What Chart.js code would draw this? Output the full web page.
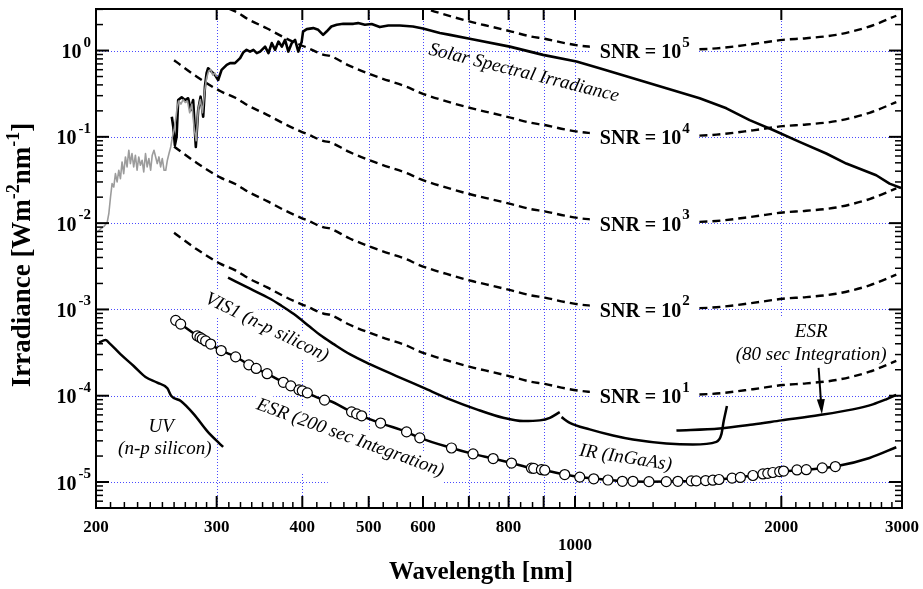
<!DOCTYPE html>
<html>
<head>
<meta charset="utf-8">
<script src="https://cdn.jsdelivr.net/npm/chart.js@4.4.1/dist/chart.umd.min.js"></script>
<style>
  html, body { margin: 0; padding: 0; background: #fff; }
</style>
</head>
<body>
<canvas id="irradianceChart" width="923" height="589"></canvas>
<script>
// solar spectrum, UV part (grey trace)
const solarUvWl = [200.9, 203.2, 205.4, 207.7, 208.8, 210, 211.1, 212.3, 213.5, 214.7, 215.9, 217.1, 218.3, 219.5, 220.8, 222, 223.3, 224.5, 225.7, 227, 228.3, 229.6, 230.9, 232.2, 233.5, 234.8, 236.2, 237.5, 238.9, 240.3, 241.6, 243, 244.4, 245.7, 247.1, 248.5, 249.9, 251.4, 252.8, 254.2, 255.6, 257.1, 258.5, 260, 261.4, 262.5, 264, 266, 268, 270, 272, 274, 276, 278, 280, 282, 284, 286, 288, 290, 292, 294, 296, 298, 300];
const solarUvIrr = [0.00786, 0.00861, 0.00915, 0.01027, 0.01286, 0.0201, 0.0287, 0.0262, 0.0375, 0.030, 0.041, 0.0328, 0.0512, 0.0375, 0.0585, 0.0448, 0.070, 0.049, 0.0641, 0.0448, 0.0613, 0.041, 0.0585, 0.0469, 0.0536, 0.0392, 0.0641, 0.0448, 0.0561, 0.041, 0.0613, 0.070, 0.0585, 0.049, 0.0585, 0.0448, 0.0561, 0.041, 0.041, 0.0536, 0.0641, 0.0765, 0.10, 0.12, 0.16, 0.21, 0.26, 0.24, 0.27, 0.25, 0.26, 0.19, 0.24, 0.13, 0.09, 0.21, 0.27, 0.19, 0.33, 0.48, 0.58, 0.60, 0.52, 0.55, 0.50];

// solar spectrum (black trace)
const solarWl = [258, 259.3, 260.7, 262.2, 263.6, 266.7, 269.6, 272.6, 274.8, 277.2, 279.7, 281.9, 284.2, 286.7, 288.4, 290, 291.5, 294.9, 298.2, 301.5, 305, 310.3, 313.8, 319, 324.6, 327.9, 331.7, 335.6, 339.4, 343.3, 347.1, 353, 357, 361, 365.1, 369.2, 373.4, 377.5, 381.7, 386.1, 390.4, 394.7, 399.2, 401, 406, 415, 422, 429, 434, 441, 449, 459, 475, 482.5, 493.6, 505, 519, 534, 555, 580, 600, 635, 657, 702, 803, 898, 1005, 1086, 1215, 1359, 1520, 1663, 1798, 1945, 2126, 2326, 2488, 2751, 2877, 2990];
const solarIrr = [0.171, 0.131, 0.080, 0.100, 0.267, 0.287, 0.267, 0.28, 0.204, 0.267, 0.0765, 0.204, 0.292, 0.171, 0.381, 0.546, 0.624, 0.57, 0.522, 0.456, 0.597, 0.682, 0.714, 0.714, 0.816, 0.948, 1.02, 0.973, 1.02, 0.933, 0.973, 1.11, 0.933, 1.22, 1.02, 1.27, 1.11, 1.33, 0.973, 1.22, 1.33, 0.973, 1.27, 1.66, 1.77, 1.82, 1.74, 1.52, 1.66, 1.90, 1.99, 2.04, 2.04, 2.08, 1.99, 2.03, 1.87, 1.95, 1.95, 1.90, 1.80, 1.60, 1.52, 1.37, 1.11, 0.891, 0.745, 0.624, 0.478, 0.365, 0.28, 0.214, 0.156, 0.12, 0.0874, 0.0641, 0.049, 0.0359, 0.0287, 0.0255];

// UV channel (n-p silicon)
const uvWl = [202, 206.6, 208.8, 217.1, 227, 236.2, 245.7, 254.2, 257.6, 265.9, 278, 290.6, 302.2, 306.6];
const uvIrr = [4.13e-4, 4.41e-4, 4.13e-4, 3.03e-4, 2.21e-4, 1.65e-4, 1.42e-4, 1.22e-4, 9.92e-5, 8.68e-5, 6.08e-5, 3.89e-5, 2.84e-5, 2.55e-5];

// VIS1 channel (n-p silicon)
const vis1Wl = [311.7, 335.6, 359, 371.2, 388.8, 410.3, 424.3, 444.6, 469.1, 501.9, 548.9, 600.4, 656.7, 718.4, 785.6, 840.2, 888.5, 918.9, 950];
const vis1Irr = [2.34e-3, 1.74e-3, 1.33e-3, 1.13e-3, 8.84e-4, 6.29e-4, 5.08e-4, 3.96e-4, 3.03e-4, 2.32e-4, 1.69e-4, 1.24e-4, 9.08e-5, 6.95e-5, 5.55e-5, 5.08e-5, 5.18e-5, 5.55e-5, 6.46e-5];

// IR channel (InGaAs)
const irWl = [955.6, 982.6, 1050.6, 1136.2, 1215, 1359, 1486, 1608, 1635, 1648, 1666];
const irIrr = [5.65e-5, 4.85e-5, 4.07e-5, 3.46e-5, 3.11e-5, 2.80e-5, 2.72e-5, 2.92e-5, 3.56e-5, 5.08e-5, 7.59e-5];

// ESR, 80 sec integration
const esr80Wl = [1406, 1625, 1818, 2000, 2274, 2543, 2720, 2845, 2943];
const esr80Irr = [3.96e-5, 4.18e-5, 4.65e-5, 5.18e-5, 5.97e-5, 6.95e-5, 7.94e-5, 9.08e-5, 1.02e-4];

// ESR, 200 sec integration: noise curve and measured points
const esr200LineWl = [260, 265.9, 281, 304, 320, 334.4, 355.5, 376.2, 397.6, 406.5, 430, 438.8, 469.1, 519, 567.7, 593.6, 660.4, 709.8, 759.3, 807.7, 863.7, 903.2, 966.2, 1016, 1062.6, 1116.9, 1174.8, 1284.9, 1421, 1608, 1818, 2010.7, 2175, 2405, 2690, 2943];
const esr200LineIrr = [7.73e-4, 6.76e-4, 4.94e-4, 3.37e-4, 2.82e-4, 2.28e-4, 1.80e-4, 1.42e-4, 1.16e-4, 1.08e-4, 8.91e-5, 8.68e-5, 6.64e-5, 4.85e-5, 3.81e-5, 3.25e-5, 2.48e-5, 2.12e-5, 1.87e-5, 1.66e-5, 1.45e-5, 1.37e-5, 1.22e-5, 1.14e-5, 1.10e-5, 1.055e-5, 1.02e-5, 1.01e-5, 1.02e-5, 1.06e-5, 1.19e-5, 1.33e-5, 1.39e-5, 1.52e-5, 1.90e-5, 2.53e-5];
const esr200PtWl = [261.4, 265.8, 281, 283.6, 285.8, 289.1, 294, 304.6, 319.7, 334.2, 342.6, 355.4, 375.3, 384.8, 395.6, 400, 406.8, 431, 472, 480.1, 488.3, 520.3, 567.8, 593.6, 660.3, 709.9, 759.5, 807.8, 863.7, 870.4, 893.2, 903.3, 966, 1016, 1064.8, 1117, 1172.4, 1214.9, 1282, 1359, 1413, 1478, 1503, 1551, 1589, 1622, 1695, 1743, 1818, 1880, 1911, 1944, 1989, 2015, 2108, 2175, 2295, 2398];
const esr200PtIrr = [7.47e-4, 6.76e-4, 4.94e-4, 4.74e-4, 4.56e-4, 4.31e-4, 3.97e-4, 3.34e-4, 2.82e-4, 2.28e-4, 2.07e-4, 1.80e-4, 1.43e-4, 1.30e-4, 1.17e-4, 1.14e-4, 1.08e-4, 8.89e-5, 6.50e-5, 6.16e-5, 5.85e-5, 4.82e-5, 3.81e-5, 3.25e-5, 2.48e-5, 2.12e-5, 1.87e-5, 1.66e-5, 1.45e-5, 1.44e-5, 1.39e-5, 1.37e-5, 1.22e-5, 1.14e-5, 1.09e-5, 1.055e-5, 1.02e-5, 1.02e-5, 1.01e-5, 1.01e-5, 1.02e-5, 1.03e-5, 1.03e-5, 1.04e-5, 1.05e-5, 1.07e-5, 1.11e-5, 1.13e-5, 1.19e-5, 1.24e-5, 1.26e-5, 1.29e-5, 1.32e-5, 1.34e-5, 1.38e-5, 1.39e-5, 1.46e-5, 1.51e-5];

// signal-to-noise levels drawn on top of the 200 sec noise curve
const snrLevels = [1e1, 1e2, 1e3, 1e4, 1e5];
const snrExps = ['1', '2', '3', '4', '5'];

// axes
const xMajorTicks = [200, 300, 400, 500, 600, 700, 800, 900, 1000, 2000, 3000];
const xMinorTicks = [210, 220, 230, 240, 250, 260, 270, 280, 290, 312.5, 325, 337.5, 350, 362.5, 375, 387.5, 420, 440, 460, 480, 525, 550, 575, 625, 650, 675, 725, 750, 775, 833, 867, 950, 1050, 1100, 1150, 1200, 1300, 1400, 1500, 1600, 1700, 1800, 1900, 2100, 2200, 2300, 2400, 2500, 2600, 2700, 2800, 2900];
const xTickValues = [200, 300, 400, 500, 600, 800, 1000, 2000, 3000];
const xTickLabels = ['200', '300', '400', '500', '600', '800', '1000', '2000', '3000'];
const xGrid = [300, 400, 500, 600, 700, 800, 900, 1000, 2000];
const yDecades = [1e0, 1e-1, 1e-2, 1e-3, 1e-4, 1e-5];
const yTickExps = ['0', '-1', '-2', '-3', '-4', '-5'];

const serif = '"Liberation Serif", "Times New Roman", serif';
const gridBlue = '#4a4aff';

// text placed on the plot, anchored in data coordinates
const curveLabels = [
  { text: 'Solar Spectral Irradiance', wl: 842, irr: 0.55, angle: 14 },
  { text: 'VIS1 (n-p silicon)', wl: 355, irr: 6.2e-4, angle: 26, bg: [3, 3, 3, 3] },
  { text: 'ESR (200 sec Integration)', wl: 470, irr: 3.25e-5, angle: 20, bg: [3, 40, 4, 4] },
  { text: 'UV', wl: 249, irr: 4.33e-5, angle: 0 },
  { text: '(n-p silicon)', wl: 252, irr: 2.43e-5, angle: 0 },
  { text: 'IR (InGaAs)', wl: 1185, irr: 1.9e-5, angle: 9 },
  { text: 'ESR', wl: 2211, irr: 5.5e-4, angle: 0 },
  { text: '(80 sec Integration)', wl: 2211, irr: 2.93e-4, angle: 0 },
];
const snrLabelWl = 1087;
const esr80Arrow = { fromWl: 2267, fromIrr: 2.1e-4, toWl: 2292, toIrr: 6.1e-5 };

const toPoints = (xs, ys) => xs.map((x, i) => ({ x, y: ys[i] }));

const datasets = [
  {
    data: toPoints(esr200PtWl, esr200PtIrr),
    showLine: false,
    pointRadius: 5,
    pointBackgroundColor: '#fff',
    pointBorderColor: '#000',
    pointBorderWidth: 1.2,
  },
  { data: toPoints(solarUvWl, solarUvIrr), borderColor: '#9c9c9c', borderWidth: 1.6 },
  { data: toPoints(solarWl, solarIrr), borderWidth: 2.6 },
  { data: toPoints(uvWl, uvIrr), cubicInterpolationMode: 'monotone' },
  { data: toPoints(vis1Wl, vis1Irr), cubicInterpolationMode: 'monotone' },
  { data: toPoints(irWl, irIrr), cubicInterpolationMode: 'monotone' },
  { data: toPoints(esr80Wl, esr80Irr), cubicInterpolationMode: 'monotone' },
  { data: toPoints(esr200LineWl, esr200LineIrr), cubicInterpolationMode: 'monotone' },
];
snrLevels.forEach((level) => {
  datasets.push({
    data: toPoints(esr200LineWl, esr200LineIrr.map((v) => v * level)),
    borderDash: [8, 5],
    borderWidth: 2.4,
    cubicInterpolationMode: 'monotone',
  });
});

function line(ctx, x1, y1, x2, y2) {
  ctx.beginPath();
  ctx.moveTo(x1, y1);
  ctx.lineTo(x2, y2);
  ctx.stroke();
}

// "10" with a raised exponent, right edge at x
function powerLabel(ctx, exp, xRight, y) {
  ctx.textAlign = 'left';
  ctx.textBaseline = 'alphabetic';
  ctx.font = 'bold 15px ' + serif;
  const supW = ctx.measureText(exp).width;
  ctx.font = 'bold 20px ' + serif;
  const baseW = ctx.measureText('10').width;
  const x0 = xRight - supW - 2 - baseW;
  ctx.fillText('10', x0, y + 7.6);
  ctx.font = 'bold 15px ' + serif;
  ctx.fillText(exp, x0 + baseW + 2, y - 4);
}

const plotDecor = {
  id: 'plotDecor',
  beforeDatasetsDraw(chart) {
    const { ctx, chartArea: a, scales: { x, y } } = chart;
    ctx.save();
    ctx.strokeStyle = gridBlue;
    ctx.lineWidth = 1;
    ctx.setLineDash([1, 2]);
    xGrid.forEach((v) => {
      const px = Math.round(x.getPixelForValue(v)) + 0.5;
      line(ctx, px, a.top, px, a.bottom);
    });
    yDecades.forEach((v) => {
      const py = Math.round(y.getPixelForValue(v)) + 0.5;
      line(ctx, a.left, py, a.right, py);
    });
    ctx.setLineDash([]);

    // white boxes behind some labels hide the grid
    ctx.fillStyle = '#fff';
    ctx.font = 'italic 19px ' + serif;
    curveLabels.filter((l) => l.bg).forEach((l) => {
      const w = ctx.measureText(l.text).width;
      const [pt, pb, pl, pr] = l.bg;
      ctx.save();
      ctx.translate(x.getPixelForValue(l.wl), y.getPixelForValue(l.irr));
      ctx.rotate((l.angle * Math.PI) / 180);
      ctx.fillRect(-w / 2 - pl, -9.5 - pt, w + pl + pr, 19 + pt + pb);
      ctx.restore();
    });
    const ex = x.getPixelForValue(2211);
    const w80 = ctx.measureText('(80 sec Integration)').width;
    ctx.fillRect(ex - w80 / 2 - 3, y.getPixelForValue(5.5e-4) - 14, w80 + 6, 48);
    ctx.restore();
  },
  afterDatasetsDraw(chart) {
    const { ctx, chartArea: a, scales: { x, y } } = chart;
    ctx.save();
    ctx.fillStyle = '#000';
    ctx.strokeStyle = '#000';

    // SNR labels, boxed in white over the dashed curves
    snrLevels.forEach((level, i) => {
      const py = y.getPixelForValue(1e-5 * level);
      const px = x.getPixelForValue(snrLabelWl);
      ctx.font = 'bold 20px ' + serif;
      const w = ctx.measureText('SNR = 10').width;
      ctx.font = 'bold 15px ' + serif;
      const sw = ctx.measureText(snrExps[i]).width;
      ctx.fillStyle = '#fff';
      ctx.fillRect(px - 10, py - 10, w + sw + 20, 20);
      ctx.fillStyle = '#000';
      ctx.textAlign = 'left';
      ctx.textBaseline = 'alphabetic';
      ctx.font = 'bold 20px ' + serif;
      ctx.fillText('SNR = 10', px, py + 7.6);
      ctx.font = 'bold 15px ' + serif;
      ctx.fillText(snrExps[i], px + w + 1, py - 4);
    });

    // curve labels
    ctx.font = 'italic 19px ' + serif;
    ctx.textAlign = 'center';
    ctx.textBaseline = 'middle';
    curveLabels.forEach((l) => {
      ctx.save();
      ctx.translate(x.getPixelForValue(l.wl), y.getPixelForValue(l.irr));
      ctx.rotate((l.angle * Math.PI) / 180);
      ctx.fillText(l.text, 0, 0);
      ctx.restore();
    });

    // arrow to the 80 sec curve
    const ax1 = x.getPixelForValue(esr80Arrow.fromWl);
    const ay1 = y.getPixelForValue(esr80Arrow.fromIrr);
    const ax2 = x.getPixelForValue(esr80Arrow.toWl);
    const ay2 = y.getPixelForValue(esr80Arrow.toIrr);
    const ang = Math.atan2(ay2 - ay1, ax2 - ax1);
    ctx.lineWidth = 2;
    line(ctx, ax1, ay1, ax2 - 12 * Math.cos(ang), ay2 - 12 * Math.sin(ang));
    ctx.beginPath();
    ctx.moveTo(ax2, ay2);
    ctx.lineTo(ax2 - 15 * Math.cos(ang) + 4 * Math.sin(ang), ay2 - 15 * Math.sin(ang) - 4 * Math.cos(ang));
    ctx.lineTo(ax2 - 15 * Math.cos(ang) - 4 * Math.sin(ang), ay2 - 15 * Math.sin(ang) + 4 * Math.cos(ang));
    ctx.closePath();
    ctx.fill();

    // frame
    ctx.lineWidth = 2;
    ctx.strokeRect(a.left, a.top, a.right - a.left, a.bottom - a.top);

    // x ticks, pointing into the plot
    xMajorTicks.forEach((v) => {
      const px = x.getPixelForValue(v);
      line(ctx, px, a.bottom, px, a.bottom - 12);
      if (v > 200 && v < 3000) line(ctx, px, a.top, px, a.top + 11);
    });
    ctx.lineWidth = 1.5;
    xMinorTicks.forEach((v) => {
      const px = x.getPixelForValue(v);
      line(ctx, px, a.bottom, px, a.bottom - 6);
    });

    // y ticks on both sides
    for (let d = -6; d <= 0; d++) {
      for (let m = 1; m <= 9; m++) {
        const v = m * Math.pow(10, d);
        if (v < y.min || v > y.max) continue;
        const py = y.getPixelForValue(v);
        const len = m === 1 ? 13 : 7;
        ctx.lineWidth = m === 1 ? 2 : 1.5;
        line(ctx, a.left, py, a.left + len, py);
        line(ctx, a.right, py, a.right - len, py);
      }
    }

    // tick labels
    ctx.fillStyle = '#000';
    ctx.font = 'bold 17px ' + serif;
    ctx.textAlign = 'center';
    ctx.textBaseline = 'alphabetic';
    xTickValues.forEach((v, i) => {
      const lift = xTickLabels[i] === '1000' ? 18 : 0;
      ctx.fillText(xTickLabels[i], x.getPixelForValue(v), a.bottom + 24 + lift);
    });
    yDecades.forEach((v, i) => powerLabel(ctx, yTickExps[i], a.left - 5, y.getPixelForValue(v)));

    // axis titles
    ctx.font = 'bold 25px ' + serif;
    ctx.textAlign = 'center';
    ctx.fillText('Wavelength [nm]', 481, 579);

    const titleParts = [['Irradiance [Wm', false], ['-2', true], ['nm', false], ['-1', true], [']', false]];
    const widths = titleParts.map(([t, sup]) => {
      ctx.font = (sup ? 'bold 18px ' : 'bold 27px ') + serif;
      return ctx.measureText(t).width;
    });
    const total = widths.reduce((s, w) => s + w, 0);
    ctx.save();
    ctx.translate(30, 255);
    ctx.rotate(-Math.PI / 2);
    ctx.textAlign = 'left';
    let tx = -total / 2;
    titleParts.forEach(([t, sup], i) => {
      ctx.font = (sup ? 'bold 18px ' : 'bold 27px ') + serif;
      ctx.fillText(t, tx, sup ? -11 : 0);
      tx += widths[i];
    });
    ctx.restore();

    ctx.restore();
  },
};

new Chart(document.getElementById('irradianceChart'), {
  type: 'line',
  data: { datasets },
  options: {
    responsive: false,
    animation: false,
    events: [],
    layout: { padding: { left: 96, right: 21, top: 9, bottom: 81 } },
    plugins: { legend: { display: false }, tooltip: { enabled: false } },
    elements: {
      point: { radius: 0 },
      line: { borderWidth: 2.5, borderColor: '#000', fill: false, tension: 0, borderJoinStyle: 'round' },
    },
    scales: {
      x: { type: 'logarithmic', min: 200, max: 3000, display: false },
      y: { type: 'logarithmic', min: 5e-6, max: 3.03, display: false },
    },
  },
  plugins: [plotDecor],
});
</script>
</body>
</html>
